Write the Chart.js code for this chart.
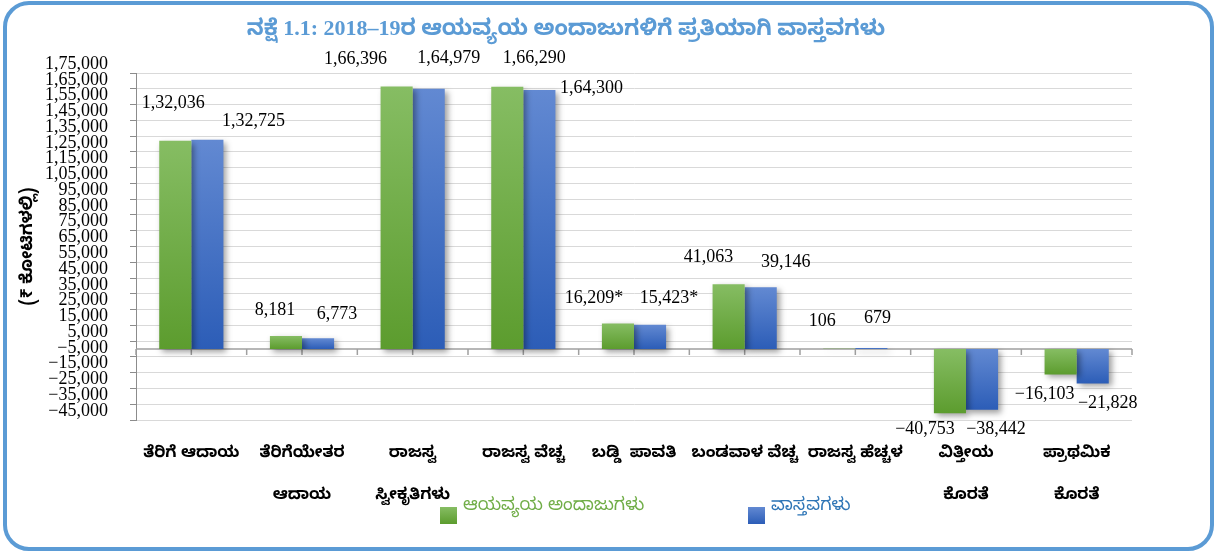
<!DOCTYPE html>
<html>
<head>
<meta charset="utf-8">
<script src="https://cdn.jsdelivr.net/npm/chart.js@4/dist/chart.umd.min.js"></script>
<style>
html,body{margin:0;padding:0;background:#fff;overflow:hidden}
#wrap{position:relative;width:1227px;height:554px}
</style>
</head>
<body>
<div id="wrap"><canvas id="c" width="1227" height="554"></canvas></div>
<script>
// ---------- data ----------
const chartTitle = 'ನಕ್ಷೆ 1.1: 2018–19ರ ಆಯವ್ಯಯ ಅಂದಾಜುಗಳಿಗೆ ಪ್ರತಿಯಾಗಿ ವಾಸ್ತವಗಳು';
const yAxisTitle = '(₹ ಕೋಟಿಗಳಲ್ಲಿ)';
const categories = [
  ['ತೆರಿಗೆ ಆದಾಯ'],
  ['ತೆರಿಗೆಯೇತರ', 'ಆದಾಯ'],
  ['ರಾಜಸ್ವ', 'ಸ್ವೀಕೃತಿಗಳು'],
  ['ರಾಜಸ್ವ ವೆಚ್ಚ'],
  ['ಬಡ್ಡಿ  ಪಾವತಿ'],
  ['ಬಂಡವಾಳ ವೆಚ್ಚ'],
  ['ರಾಜಸ್ವ ಹೆಚ್ಚಳ'],
  ['ವಿತ್ತೀಯ', 'ಕೊರತೆ'],
  ['ಪ್ರಾಥಮಿಕ', 'ಕೊರತೆ']
];
const seriesNames = ['ಆಯವ್ಯಯ ಅಂದಾಜುಗಳು', 'ವಾಸ್ತವಗಳು'];
const budgetEstimates = [132036, 8181, 166396, 166290, 16209, 41063, 106, -40753, -16103];
const actuals = [132725, 6773, 164979, 164300, 15423, 39146, 679, -38442, -21828];
const labelNotes = ['', '', '', '', '*', '', '', '', ''];
const yMin = -45000, yMax = 175000, yStep = 10000;

// ---------- helpers ----------
function inr(v) {
  const neg = v < 0;
  const s = String(Math.abs(Math.round(v)));
  let out;
  if (s.length > 3) {
    const last3 = s.slice(-3);
    const rest = s.slice(0, -3).replace(/\B(?=(\d{2})+(?!\d))/g, ',');
    out = rest + ',' + last3;
  } else out = s;
  return (neg ? '−' : '') + out;
}

const GREEN = {light: '#86bd63', dark: '#5c9c2e', text: '#70ad47'};
const BLUE = {light: '#6289d2', dark: '#2c5db7', text: '#2e75b6'};

// label placement nudges (pixels, relative to bar centre / bar end) – styling only
const labelNudge = [
  [[-2,-38],[-11,-26],[-41,-27],[27,-28],[-24,-25],[-20,-27],[-17,-28],[-25,16],[-16,20]],
  [[46,-18],[19,-24],[20,-31],[52,-2],[19,-26],[25,-25],[6,-30],[14,20],[15,20]]
];

function barGradient(col) {
  return function (ctx) {
    const chart = ctx.chart;
    const ys = chart.scales && chart.scales.y;
    if (!ys || !chart.chartArea || ctx.type !== 'data') return col.dark;
    const p0 = ys.getPixelForValue(0), p1 = ys.getPixelForValue(ctx.raw);
    const top = Math.min(p0, p1), bot = Math.max(p0, p1);
    if (bot - top < 1) return col.dark;
    const g = chart.ctx.createLinearGradient(0, top, 0, bot);
    g.addColorStop(0, col.light);
    g.addColorStop(1, col.dark);
    return g;
  };
}

const decorPlugin = {
  id: 'decor',
  beforeDraw(chart) {
    const c = chart.ctx;
    c.save();
    c.fillStyle = '#fff';
    c.fillRect(0, 0, chart.width, chart.height);
    const x = 5, y = 3, w = 1207, h = 546, r = 24;
    c.beginPath();
    c.moveTo(x + r, y);
    c.arcTo(x + w, y, x + w, y + h, r);
    c.arcTo(x + w, y + h, x, y + h, r);
    c.arcTo(x, y + h, x, y, r);
    c.arcTo(x, y, x + w, y, r);
    c.closePath();
    c.lineWidth = 4;
    c.strokeStyle = '#5b9bd5';
    c.stroke();
    c.restore();
  },
  beforeDatasetsDraw(chart) {
    const c = chart.ctx, ys = chart.scales.y, a = chart.chartArea;
    const y0 = ys.getPixelForValue(0);
    c.save();
    c.strokeStyle = '#a0a0a0';
    c.lineWidth = 1.5;
    c.beginPath();
    c.moveTo(a.left, y0); c.lineTo(a.right, y0);
    const n = categories.length, cw = (a.right - a.left) / n;
    for (let i = 0; i <= 2 * n; i++) {
      const px = a.left + i * cw / 2;
      c.moveTo(px, y0); c.lineTo(px, y0 + 6);
    }
    c.stroke();
    c.restore();
    c.save();
    c.shadowColor = 'rgba(0,0,0,0.38)';
    c.shadowBlur = 6;
    c.shadowOffsetX = 3;
    c.shadowOffsetY = 3;
  },
  afterDatasetsDraw(chart) {
    const c = chart.ctx;
    c.restore();
    c.save();
    c.font = '18px "Liberation Serif", "Times New Roman", serif';
    c.fillStyle = '#000';
    c.textAlign = 'center';
    c.textBaseline = 'middle';
    chart.data.datasets.forEach((ds, di) => {
      const meta = chart.getDatasetMeta(di);
      meta.data.forEach((el, i) => {
        const v = ds.data[i];
        const nd = labelNudge[di][i];
        c.fillText(inr(v) + labelNotes[i], el.x + nd[0], el.y + nd[1]);
      });
    });
    c.restore();
  },
  afterDraw(chart) {
    const c = chart.ctx, a = chart.chartArea;
    const cx = (a.left + a.right) / 2;
    const items = [
      {name: seriesNames[0], col: GREEN, x: cx - 194},
      {name: seriesNames[1], col: BLUE, x: cx + 114}
    ];
    c.save();
    c.font = '17.5px "Noto Sans Kannada", "Noto Sans", sans-serif';
    c.textBaseline = 'middle';
    c.textAlign = 'left';
    items.forEach(it => {
      const sy = 507, s = 17;
      const g = c.createLinearGradient(0, sy, 0, sy + s);
      g.addColorStop(0, it.col.light);
      g.addColorStop(1, it.col.dark);
      c.fillStyle = g;
      c.fillRect(it.x, sy, s, s);
      c.fillStyle = it.col.text;
      c.fillText(it.name, it.x + 23, 508);
    });
    c.restore();
  }
};

new Chart(document.getElementById('c'), {
  type: 'bar',
  data: {
    labels: categories,
    datasets: [
      {label: seriesNames[0], data: budgetEstimates, backgroundColor: barGradient(GREEN), borderWidth: 0},
      {label: seriesNames[1], data: actuals, backgroundColor: barGradient(BLUE), borderWidth: 0}
    ]
  },
  options: {
    responsive: false,
    animation: false,
    layout: {padding: {left: 0, right: 95, top: 0, bottom: 0}},
    datasets: {bar: {categoryPercentage: 0.58, barPercentage: 1}},
    plugins: {
      legend: {display: false},
      tooltip: {enabled: false},
      title: {
        display: true,
        text: chartTitle,
        color: '#5b9bd5',
        font: {family: '"Liberation Serif", "Noto Sans Kannada", serif', size: 22, weight: 'bold'},
        padding: {top: 16, bottom: 30.6}
      }
    },
    scales: {
      x: {
        afterFit(s) { s.height = 134; },
        grid: {display: false},
        border: {display: false},
        ticks: {
          autoSkip: false, maxRotation: 0, minRotation: 0, padding: 7,
          color: '#000',
          font: {family: '"Noto Sans Kannada", "Noto Sans", sans-serif', size: 16, weight: 'bold', lineHeight: 2.6}
        }
      },
      y: {
        min: yMin, max: yMax,
        afterFit(s) { s.width = 136; },
        grid: {color: '#d9d9d9', lineWidth: 1, tickColor: '#8c8c8c', tickLength: 6, drawTicks: true},
        border: {display: true, color: '#8c8c8c', width: 1},
        ticks: {
          stepSize: yStep, autoSkip: false, padding: 22, labelOffset: -9,
          color: '#000',
          font: {family: '"Liberation Serif", "Times New Roman", serif', size: 18},
          callback: v => inr(v)
        },
        title: {
          display: true, text: yAxisTitle, color: '#000',
          font: {family: '"Noto Sans Kannada", "Noto Sans", sans-serif', size: 17, weight: 'bold'},
          padding: {top: 20, bottom: 0}
        }
      }
    }
  },
  plugins: [decorPlugin]
});
</script>
</body>
</html>
